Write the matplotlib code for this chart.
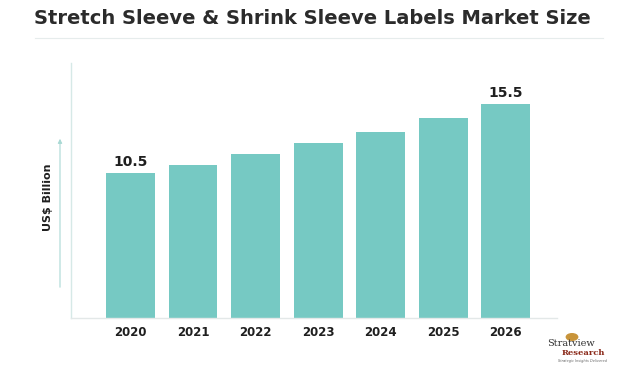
import matplotlib
matplotlib.use("Agg")
import matplotlib.pyplot as plt

# data
years = ["2020", "2021", "2022", "2023", "2024", "2025", "2026"]
values = [10.5, 11.1, 11.9, 12.7, 13.5, 14.5, 15.5]
labeled = {0: "10.5", 6: "15.5"}

bar_color = "#76c9c3"
text_color = "#1f1f1f"

fig = plt.figure(figsize=(6.31, 3.66), dpi=100)
ax = fig.add_axes([0.1125, 0.1311, 0.7702, 0.6968])

x = range(len(years))
ax.bar(x, values, width=0.78, color=bar_color, zorder=2)
ax.set_xlim(-0.952, 6.82)
ax.set_ylim(0, 18.5)

for i, lab in labeled.items():
    ax.text(i, values[i] + 0.3, lab, ha="center", va="bottom",
            fontsize=10, fontweight="bold", color=text_color)

ax.set_xticks(list(x))
ax.set_xticklabels(years, fontsize=8.5, fontweight="bold", color=text_color)
ax.tick_params(axis="x", length=0, pad=6)
ax.set_yticks([])

for s in ["top", "right"]:
    ax.spines[s].set_visible(False)
ax.spines["left"].set_color("#d6e9e7")
ax.spines["bottom"].set_color("#e3e8e8")
ax.spines["left"].set_linewidth(1)
ax.spines["bottom"].set_linewidth(1)

# y axis arrow and label
fig.add_artist(matplotlib.patches.FancyArrowPatch(
    (60 / 631, 1 - 290 / 366), (60 / 631, 1 - 136 / 366),
    transform=fig.transFigure, arrowstyle="-|>", mutation_scale=6,
    color="#a9d9d4", lw=0.8))
fig.text(48 / 631, 1 - 197 / 366, "US$ Billion", rotation=90, ha="center",
         va="center", fontsize=8, fontweight="bold", color=text_color)

# title and rule beneath
fig.text(0.495, 1 - 19 / 366, "Stretch Sleeve & Shrink Sleeve Labels Market Size",
         ha="center", va="center", fontsize=14, fontweight="bold", color="#2b2b2b")
fig.add_artist(plt.Line2D([35 / 631, 603 / 631], [1 - 38 / 366, 1 - 38 / 366],
                          transform=fig.transFigure, color="#e6ecec", lw=0.8))

# logo
fig.text(571 / 631, 1 - 344 / 366, "Stratview", ha="center", va="center",
         fontsize=7, family="serif", color="#333333")
fig.text(583 / 631, 1 - 353 / 366, "Research", ha="center", va="center",
         fontsize=6, family="serif", fontweight="bold", color="#8b2a1a")
fig.text(583 / 631, 1 - 361 / 366, "Strategic Insights Delivered", ha="center",
         va="center", fontsize=2.5, style="italic", color="#666666")
fig.add_artist(matplotlib.patches.Circle((572 / 631, 1 - 337 / 366), 0.009,
                                         transform=fig.transFigure,
                                         color="#c8943a"))

fig.savefig("out.png", dpi=100)
